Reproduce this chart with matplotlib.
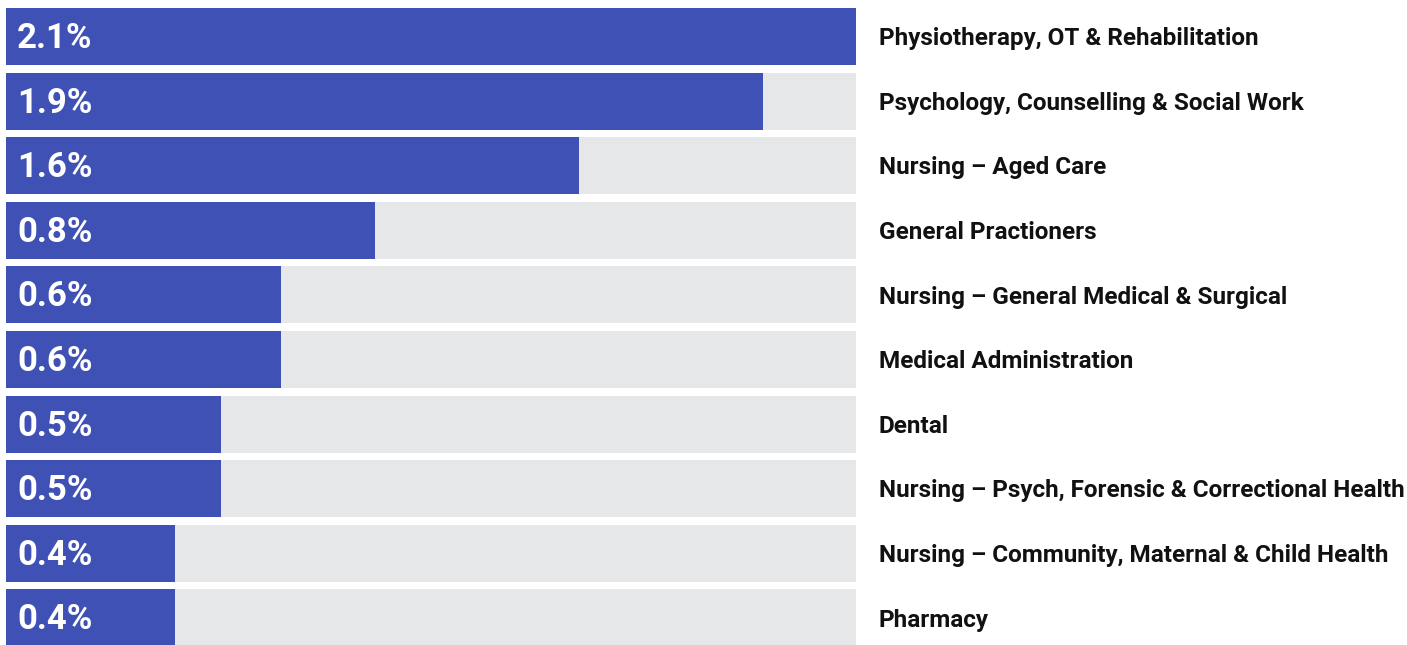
import matplotlib
matplotlib.use("Agg")
import matplotlib.pyplot as plt

categories = [
    "Physiotherapy, OT & Rehabilitation",
    "Psychology, Counselling & Social Work",
    "Nursing – Aged Care",
    "General Practioners",
    "Nursing – General Medical & Surgical",
    "Medical Administration",
    "Dental",
    "Nursing – Psych, Forensic & Correctional Health",
    "Nursing – Community, Maternal & Child Health",
    "Pharmacy",
]
value_labels = ["2.1%", "1.9%", "1.6%", "0.8%", "0.6%", "0.6%", "0.5%", "0.5%", "0.4%", "0.4%"]
# bar lengths as drawn in the picture (full track = 2.1)
bar_lengths = [2.1, 1.869, 1.416, 0.912, 0.679, 0.679, 0.531, 0.531, 0.417, 0.417]
track_max = 2.1

BLUE = "#3F51B5"
GRAY = "#E6E7E8"

W, H = 1407, 645
fig = plt.figure(figsize=(W / 100, H / 100), dpi=100)
ax = fig.add_axes([6 / W, 0, 850 / W, 1])

pitch = 64.6
bar_h = 57 / pitch
first_center = 36.5
ax.set_ylim((H - first_center) / pitch, -first_center / pitch)
ax.set_xlim(0, track_max)

ys = list(range(len(categories)))
ax.barh(ys, [track_max] * len(ys), height=bar_h, color=GRAY, left=0)
ax.barh(ys, bar_lengths, height=bar_h, color=BLUE, left=0)

for y, lab, cat in zip(ys, value_labels, categories):
    ax.text(11 / 850 * track_max, y + 0.03, lab, color="white", fontsize=25,
            fontfamily="Roboto", fontweight="bold", va="center", ha="left")
    ax.text(track_max + 23 / 850 * track_max, y + 0.035, cat, color="#111111", fontsize=17.5,
            fontfamily="Roboto", fontweight="bold", va="center", ha="left", clip_on=False)

ax.axis("off")
fig.savefig("out.png", dpi=100)
